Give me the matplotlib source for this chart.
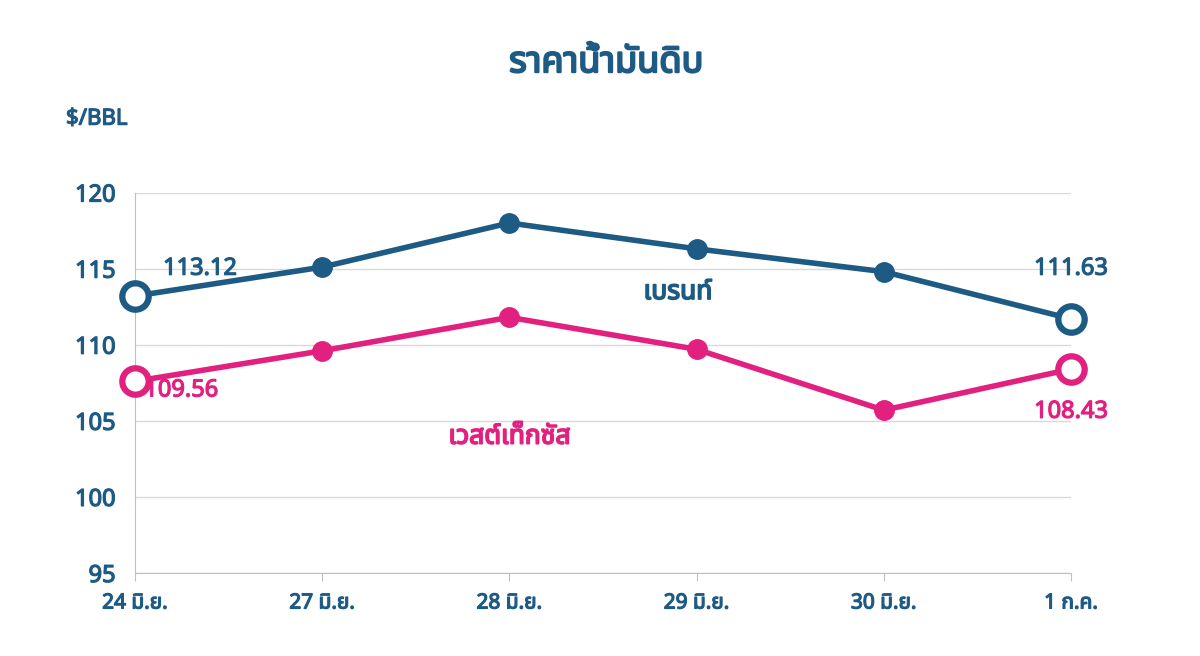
import matplotlib
matplotlib.use("Agg")
import matplotlib.pyplot as plt
from matplotlib import font_manager as fm
import matplotlib.patheffects as pe

names = {f.name for f in fm.fontManager.ttflist}
fams = [n for n in ["Noto Sans Thai", "Noto Sans Thai UI", "Loma", "Garuda", "Tlwg Typo", "Noto Sans", "DejaVu Sans"] if n in names]
plt.rcParams['font.family'] = fams
plt.rcParams['font.weight'] = 'bold'

categories = ["24 มิ.ย.", "27 มิ.ย.", "28 มิ.ย.", "29 มิ.ย.", "30 มิ.ย.", "1 ก.ค."]
brent = [113.2, 115.1, 118.0, 116.3, 114.8, 111.7]
wti = [107.6, 109.6, 111.8, 109.7, 105.7, 108.4]
brent_labels = ["113.12", "111.63"]
wti_labels = ["109.56", "108.43"]

blue = "#1d5a84"
pink = "#e2207f"

def bold(c, w=0.9):
    return [pe.withStroke(linewidth=w, foreground=c)]

fig = plt.figure(figsize=(12, 6.56), dpi=100)
ax = fig.add_axes([0.1125, 0.1265, 0.78, 0.58])
x = list(range(len(categories)))

for y, c in [(brent, blue), (wti, pink)]:
    ax.plot(x, y, color=c, lw=4, zorder=3, clip_on=False)
    ax.plot(x[1:-1], y[1:-1], 'o', color=c, ms=14, zorder=4, clip_on=False)
    ax.plot([x[0], x[-1]], [y[0], y[-1]], 'o', mfc='white', mec=c, mew=4.5, ms=19, zorder=5, clip_on=False)

ax.set_xlim(0, 5)
ax.set_ylim(95, 120)
ax.set_yticks([95, 100, 105, 110, 115, 120])
ax.set_xticks(x)
ax.set_xticklabels(categories)
ax.grid(axis='y', color='#d9d9d9', lw=1)
ax.set_axisbelow(True)
for s in ['top', 'right']:
    ax.spines[s].set_visible(False)
for s in ['left', 'bottom']:
    ax.spines[s].set_color('#bfbfbf')
ax.tick_params(axis='y', length=0, labelsize=17, labelcolor=blue, pad=14)
ax.tick_params(axis='x', length=6, color='#bfbfbf', labelsize=15, labelcolor=blue, pad=8, direction='out')
for lab in ax.get_xticklabels() + ax.get_yticklabels():
    lab.set_fontweight('bold')
    lab.set_path_effects(bold(blue))

kw = dict(fontsize=17, fontweight='bold')
ax.text(0.15, 114.6, brent_labels[0], color=blue, path_effects=bold(blue), **kw)
ax.text(5.0, 114.6, brent_labels[1], color=blue, ha='center', path_effects=bold(blue), **kw)
ax.text(0.05, 107.0, wti_labels[0], color=pink, va='center', path_effects=bold(pink), **kw)
ax.text(5.0, 105.2, wti_labels[1], color=pink, ha='center', path_effects=bold(pink), **kw)
ax.text(2.9, 113.0, "เบรนท์", color=blue, fontsize=19, fontweight='bold', ha='center', path_effects=bold(blue, 1.2))
ax.text(2.0, 103.5, "เวสต์เท็กซัส", color=pink, fontsize=19, fontweight='bold', ha='center', path_effects=bold(pink, 1.2))

fig.text(0.505, 0.89, "ราคาน้ำมันดิบ", color=blue, fontsize=26, fontweight='bold', ha='center', path_effects=bold(blue, 1.5))
fig.text(0.055, 0.81, "$/BBL", color=blue, fontsize=16, fontweight='bold', path_effects=bold(blue))

fig.savefig("out.png", dpi=100)
